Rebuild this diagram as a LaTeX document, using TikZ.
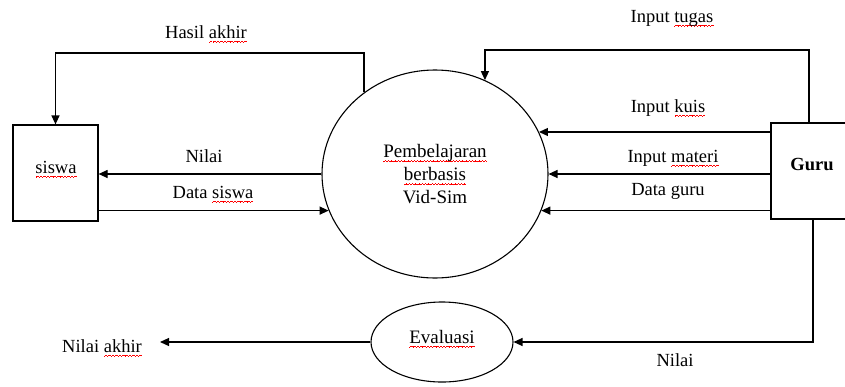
\documentclass[tikz,border=0pt]{standalone}
\usepackage{fontspec}
\setmainfont{Liberation Serif}
\usetikzlibrary{arrows.meta,shapes.geometric}
\newsavebox\sqbox
\newcommand\waveunit{\hbox{%
  \vrule width0.8pt height-4.0pt depth4.8pt
  \vrule width0.8pt height-3.4pt depth4.2pt
  \vrule width0.8pt height-2.8pt depth3.6pt
  \vrule width0.8pt height-3.4pt depth4.2pt}}
\newcommand\sq[1]{\sbox\sqbox{#1}\rlap{\textcolor{red}{\hbox to\wd\sqbox{\xleaders\waveunit\hfil}}}\usebox\sqbox}
\tikzset{
  lab/.style={inner sep=0pt, font=\fontsize{18.5}{22}\selectfont, anchor=base},
  boxnode/.style={draw, line width=1.2pt, rectangle, inner sep=0pt, font=\fontsize{18.5}{22}\selectfont},
  proc/.style={draw, line width=1.1pt, ellipse, inner sep=0pt, align=center, font=\fontsize{19}{23}\selectfont},
  arr/.style={line width=1.2pt, -{Triangle[length=9pt,width=8pt]}},
}
\begin{document}
\begin{tikzpicture}[x=1pt,y=-1pt]
\useasboundingbox (0,0) rectangle (845,386);
\clip (0,0) rectangle (845,386);
% nodes
\node[boxnode, minimum width=85pt, minimum height=96pt] (siswa) at (55.5,173) {};
\node[lab] (tsiswa) at (56,173) {\sq{siswa}};
\node[proc, minimum width=226pt, minimum height=208pt] (proc) at (435,174)
  {\sq{Pembelajaran}\\ \sq{berbasis}\\ Vid-Sim};
\node[boxnode, minimum width=84pt, minimum height=96pt] (guru) at (813,171) {};
\node[lab, font=\fontsize{18.5}{22}\selectfont\bfseries] (tguru) at (812,170) {Guru};
\node[proc, minimum width=142pt, minimum height=80pt, text depth=11pt] (eval) at (442,342) {\sq{Evaluasi}};
\node[lab, anchor=base east, inner xsep=18pt] (nak) at (160,352) {Nilai \sq{akhir}};
% corner coordinates
\coordinate (c1) at (364,53);
\coordinate (c2) at (809,50);
\coordinate (c3) at (813,342);
% connectors
\draw[arr] (proc.131) -- (proc.131 |- c1) -| (siswa.north);
\draw[arr] (proc.west) -- (proc.west -| siswa.east);
\draw[arr] (proc.199 -| siswa.east) -- (proc.199);
\draw[arr] (c2 |- guru.north) -- (c2) -| (proc.62);
\draw[arr] (proc.22 -| guru.west) -- (proc.22);
\draw[arr] (proc.east -| guru.west) -- (proc.east);
\draw[arr] (proc.-19 -| guru.west) -- (proc.-19);
\draw[arr] (c3 |- guru.south) -- (c3) -- (eval.east);
\draw[arr] (eval.west) -- (eval.west -| nak.east);
% labels
\node[lab] (l1) at (206,38) {Hasil \sq{akhir}};
\node[lab] (l2) at (204,162) {Nilai};
\node[lab] (l3) at (213,198) {Data \sq{siswa}};
\node[lab] (l4) at (672,22) {Input \sq{tugas}};
\node[lab] (l5) at (668,112) {Input \sq{kuis}};
\node[lab] (l6) at (673,162) {Input \sq{materi}};
\node[lab] (l7) at (668,195) {Data guru};
\node[lab] (l8) at (675,366) {Nilai};
\end{tikzpicture}
\end{document}
